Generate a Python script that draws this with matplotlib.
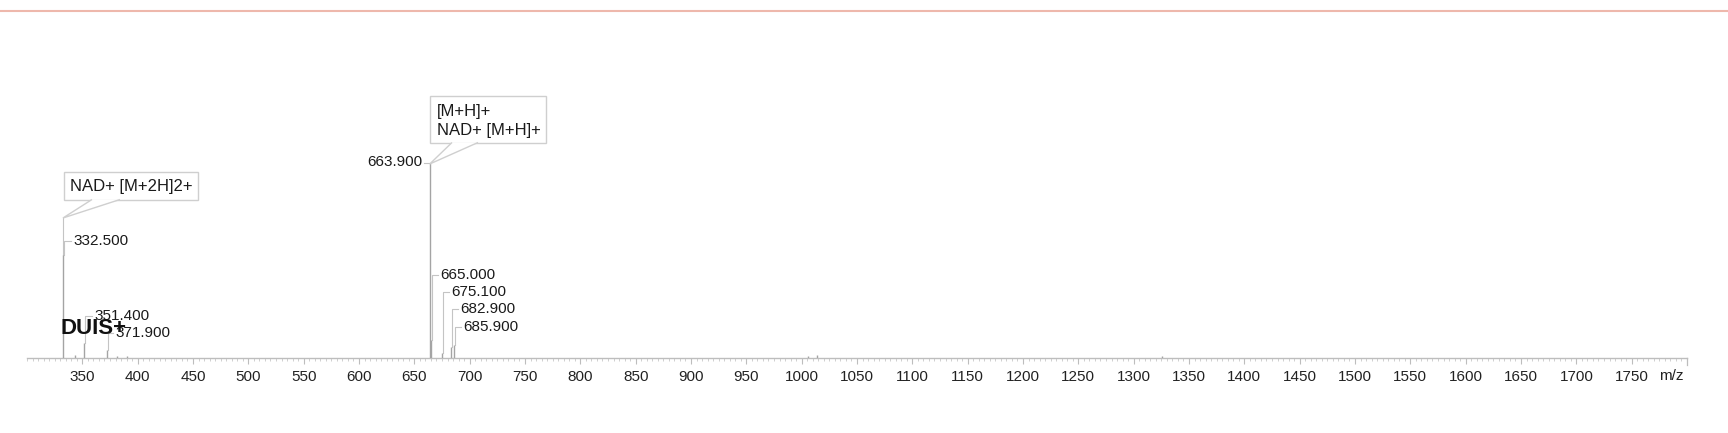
import matplotlib
matplotlib.use("Agg")
import matplotlib.pyplot as plt
from matplotlib.patches import Rectangle, Polygon
from matplotlib.lines import Line2D
import numpy as np

plt.rcParams['font.family'] = ['Liberation Sans', 'DejaVu Sans']

# ---- data ----
peak_mz = [332.5, 343.0, 351.4, 371.9, 381.0, 390.0,
           663.9, 665.0, 675.1, 682.9, 685.9,
           1006.0, 1014.0, 1326.0]
peak_int = [52.8, 1.5, 7.7, 4.1, 1.0, 0.8,
            100.0, 9.0, 2.5, 5.5, 6.5,
            1.2, 1.5, 0.8]
labeled_mz = [663.9, 332.5, 351.4, 371.9, 665.0, 675.1, 682.9, 685.9]
labeled_txt = ["663.900", "332.500", "351.400", "371.900",
               "665.000", "675.100", "682.900", "685.900"]
major_ticks = list(range(350, 1751, 50))
callout_txt = ["[M+H]+\nNAD+ [M+H]+", "NAD+ [M+2H]2+"]
callout_mz = [663.9, 332.5]

W_PX, H_PX = 1728, 433
fig = plt.figure(figsize=(W_PX / 100, H_PX / 100), dpi=100)
AX_L, AX_R, AX_Y, AX_TOP = 27, 1687, 358, 163
ax = fig.add_axes([AX_L / W_PX, (H_PX - AX_Y) / H_PX,
                   (AX_R - AX_L) / W_PX, (AX_Y - AX_TOP) / H_PX])
ax.set_xlim(300, 1800)
ax.set_ylim(0, 100)

def X(px):
    return 300 + (px - AX_L) * 1500.0 / (AX_R - AX_L)

def Y(py):
    return (AX_Y - py) * 100.0 / (AX_Y - AX_TOP)

def PX(mz):
    return AX_L + (mz - 300) * (AX_R - AX_L) / 1500.0

def PY(v):
    return AX_Y - v * (AX_Y - AX_TOP) / 100.0

for s in ['top', 'left', 'right']:
    ax.spines[s].set_visible(False)
ax.spines['bottom'].set_color('#bdbdbd')
ax.spines['bottom'].set_linewidth(1.0)
ax.set_yticks([])
ax.set_xticks(major_ticks)
ax.set_xticks(np.arange(300, 1801, 5), minor=True)
ax.tick_params(axis='x', which='major', direction='out', length=4.0,
               width=0.8, color='#bdbdbd', labelsize=11,
               labelcolor='#222222', pad=4.5)
ax.tick_params(axis='x', which='minor', direction='out', length=2.2,
               width=0.6, color='#c8c8c8')
ax.set_facecolor('white')
# end tick
ax.plot([1800, 1800], [0, Y(AX_Y + 7)], color='#bdbdbd', lw=0.9,
        clip_on=False)
ax.text(X(1671), Y(376), "m/z", ha='center', va='center', fontsize=11,
        color='#222222', clip_on=False)

# ---- peaks ----
ax.vlines(peak_mz, 0, peak_int, colors='#a4a4a4', linewidth=1.0, zorder=3)
inten = dict(zip(peak_mz, peak_int))

LEAD = '#c4c4c4'
FS = 11
# label layout (pixel positions): x edge, y center, side
label_pos = {
    663.9: (422, 162, 'right'),
    332.5: (73, 241, 'left'),
    351.4: (94, 316, 'left'),
    371.9: (115, 333, 'left'),
    665.0: (440, 275, 'left'),
    675.1: (451, 292, 'left'),
    682.9: (460, 309, 'left'),
    685.9: (463, 327, 'left'),
}
for mz, txt in zip(labeled_mz, labeled_txt):
    ex, cy, side = label_pos[mz]
    px = PX(mz)
    top = PY(inten[mz])
    if side == 'right':
        ax.plot([X(ex + 2), X(px)], [Y(cy + 1), Y(top)], color=LEAD,
                lw=0.8, clip_on=False, zorder=2)
        ax.text(X(ex), Y(cy), txt, ha='right', va='center', fontsize=FS,
                color='#1a1a1a', clip_on=False, zorder=5)
    else:
        ax.plot([X(ex - 2), X(px + 1), X(px + 1)], [Y(cy), Y(cy), Y(top)],
                color=LEAD, lw=0.8, clip_on=False, zorder=2)
        ax.text(X(ex), Y(cy), txt, ha='left', va='center', fontsize=FS,
                color='#1a1a1a', clip_on=False, zorder=5)

ax.text(X(61), Y(329), "DUIS+", ha='left', va='center', fontsize=16,
        fontweight='bold', color='#111111', clip_on=False, zorder=6)

# ---- callouts ----
BOX = '#cfcfcf'
callout_geom = [
    # box x0, x1, y0, y1, text x, text y center, wedge base x0, x1, tip x, tip y
    (430, 546, 96, 143, 437, 121, 452, 478, PX(663.9), 164),
    (64, 198, 172, 200, 70, 186, 92, 120, PX(332.5), 218),
]
for txt, mz, g in zip(callout_txt, callout_mz, callout_geom):
    bx0, bx1, by0, by1, tx, ty, wx0, wx1, tipx, tipy = g
    ax.add_patch(Rectangle((X(bx0), Y(by1)), X(bx1) - X(bx0), Y(by0) - Y(by1),
                           facecolor='white', edgecolor=BOX, lw=1.0,
                           clip_on=False, zorder=4))
    ax.add_patch(Polygon([(X(wx0), Y(by1 - 0.5)), (X(tipx), Y(tipy)),
                          (X(wx1), Y(by1 - 0.5))], closed=False,
                         facecolor='white', edgecolor=BOX, lw=1.0,
                         clip_on=False, zorder=4.5))
    top = PY(inten[mz])
    if top > tipy + 1:
        ax.plot([X(tipx), X(tipx)], [Y(tipy), Y(top)], color=LEAD, lw=0.8,
                clip_on=False, zorder=2)
    ax.text(X(tx), Y(ty), txt, ha='left', va='center', fontsize=12,
            linespacing=1.35, color='#1a1a1a', clip_on=False, zorder=5)

# ---- header line ----
fig.add_artist(Line2D([0, 1], [1 - 11 / H_PX, 1 - 11 / H_PX],
                      color='#eeb8ac', lw=1.5, transform=fig.transFigure))

fig.savefig("out.png", dpi=100, facecolor='white')
